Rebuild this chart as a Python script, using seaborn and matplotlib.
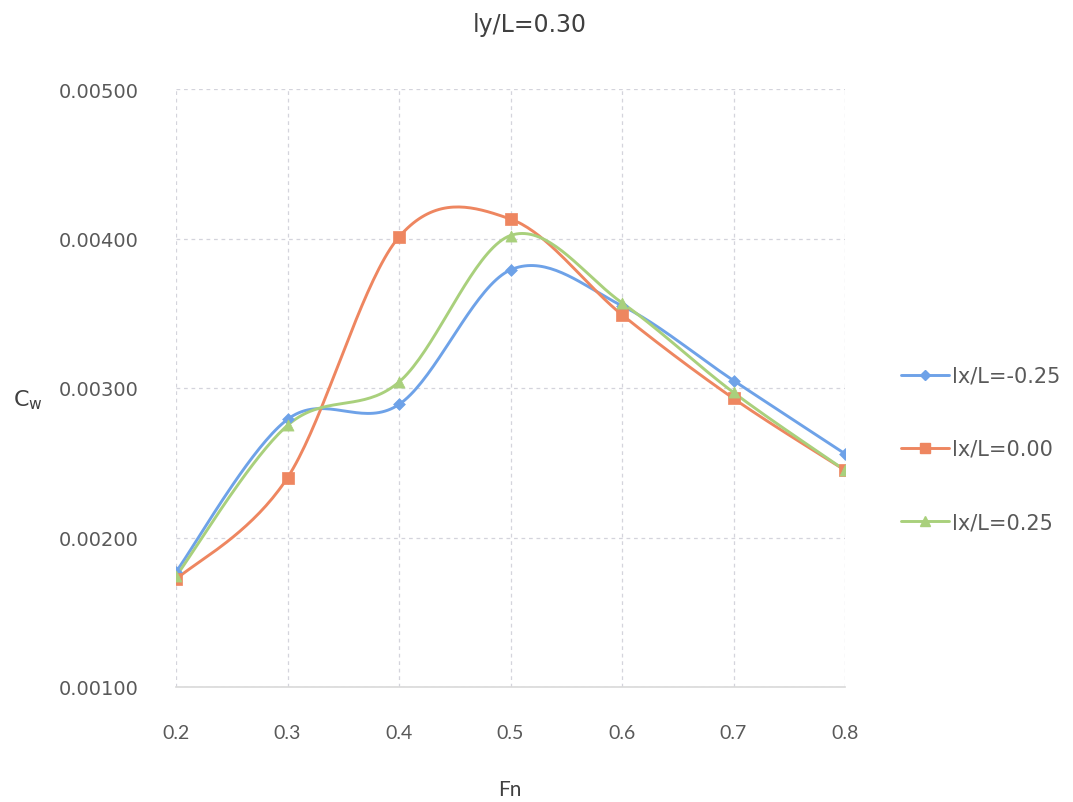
import numpy as np
import pandas as pd
import matplotlib
matplotlib.use("Agg")
import matplotlib.pyplot as plt
from matplotlib.lines import Line2D
import seaborn as sns

# Froude numbers and wave-making resistance coefficients for each lx/L offset
fn = [0.2, 0.3, 0.4, 0.5, 0.6, 0.7, 0.8]
cw_m025 = [0.00177, 0.00279, 0.00289, 0.00379, 0.00355, 0.00305, 0.00256]
cw_000 = [0.00172, 0.00240, 0.00401, 0.00413, 0.00349, 0.00293, 0.00245]
cw_p025 = [0.00174, 0.00275, 0.00304, 0.00402, 0.00357, 0.00297, 0.00245]
series_labels = ["lx/L=-0.25", "lx/L=0.00", "lx/L=0.25"]
x_ticks = [0.2, 0.3, 0.4, 0.5, 0.6, 0.7, 0.8]
y_ticks = [0.001, 0.002, 0.003, 0.004, 0.005]

colors = ["#6ea2e8", "#ee8660", "#a9d07c"]
markers = ["D", "s", "^"]
msizes = [6, 8, 8]


def smooth(xs, ys, n=40):
    """Catmull-Rom style Bezier smoothing through the given points."""
    p = np.column_stack([xs, ys]).astype(float)
    pts = [p[0]] + list(p) + [p[-1]]
    out = []
    for i in range(1, len(pts) - 2):
        p0, p1, p2, p3 = pts[i - 1], pts[i], pts[i + 1], pts[i + 2]
        c1 = p1 + (p2 - p0) / 6.0
        c2 = p2 - (p3 - p1) / 6.0
        t = np.linspace(0, 1, n)[:, None]
        seg = ((1 - t) ** 3) * p1 + 3 * ((1 - t) ** 2) * t * c1 + 3 * (1 - t) * t ** 2 * c2 + t ** 3 * p2
        out.append(seg if i == 1 else seg[1:])
    seg = np.vstack(out)
    return seg[:, 0], seg[:, 1]


sns.set_theme(style="white")
plt.rcParams["font.family"] = ["DejaVu Sans"]

fig = plt.figure(figsize=(10.73, 8.03), dpi=100)
ax = fig.add_axes([176 / 1073, 1 - 688 / 803, (845 - 176) / 1073, (688 - 90) / 803])

data = pd.DataFrame({"Fn": fn * 3,
                     "Cw": cw_m025 + cw_000 + cw_p025,
                     "case": sum([[s] * len(fn) for s in series_labels], [])})

handles = []
for lab, col, mk, ms in zip(series_labels, colors, markers, msizes):
    sub = data[data["case"] == lab]
    sx, sy = smooth(sub["Fn"].values, sub["Cw"].values)
    curve = pd.DataFrame({"Fn": sx, "Cw": sy})
    sns.lineplot(data=curve, x="Fn", y="Cw", ax=ax, color=col, lw=2.1,
                 sort=False, estimator=None, zorder=3)
    sns.scatterplot(data=sub, x="Fn", y="Cw", ax=ax, color=col, marker=mk,
                    s=ms ** 2, edgecolor=col, linewidth=0.5, zorder=4)
    handles.append(Line2D([0], [0], color=col, lw=2.1, marker=mk, markersize=ms - 1))

ax.set_xlim(0.2, 0.8)
ax.set_ylim(0.001, 0.005)
ax.set_xticks(x_ticks)
ax.set_yticks(y_ticks)
ax.set_xticklabels([f"{v:.1f}" for v in x_ticks], family=["Lato", "DejaVu Sans"], fontsize=14)
ax.set_yticklabels([f"{v:.5f}" for v in y_ticks], fontsize=14)
ax.tick_params(axis="both", length=0, labelcolor="#595959")
ax.tick_params(axis="x", pad=27)
ax.tick_params(axis="y", pad=27)

ax.grid(True, color="#d4d4dc", linestyle=(0, (3, 3)), linewidth=0.9)
for s in ["top", "right", "left"]:
    ax.spines[s].set_visible(False)
ax.spines["bottom"].set_color("#d9d9d9")
ax.spines["bottom"].set_linewidth(1.2)

ax.set_xlabel("")
ax.set_ylabel("")
fig.text(510 / 1073, 1 - 790 / 803, "Fn", ha="center", va="center", fontsize=15, color="#404040",
         family=["Lato", "DejaVu Sans"])
fig.text(28 / 1073, 1 - 400 / 803, "C$_{\\mathregular{w}}$", ha="center", va="center",
         fontsize=16, color="#404040")
fig.text(530 / 1073, 1 - 25 / 803, "ly/L=0.30", ha="center", va="center", fontsize=17, color="#404040")

leg = ax.legend(handles, series_labels, loc="center left",
                bbox_to_anchor=(882 / 1073, 1 - 450 / 803), bbox_transform=fig.transFigure,
                frameon=False, fontsize=15, labelspacing=2.55, handlelength=2.3,
                handletextpad=0.15, labelcolor="#595959")

fig.savefig("out.png", dpi=100, facecolor="white")
